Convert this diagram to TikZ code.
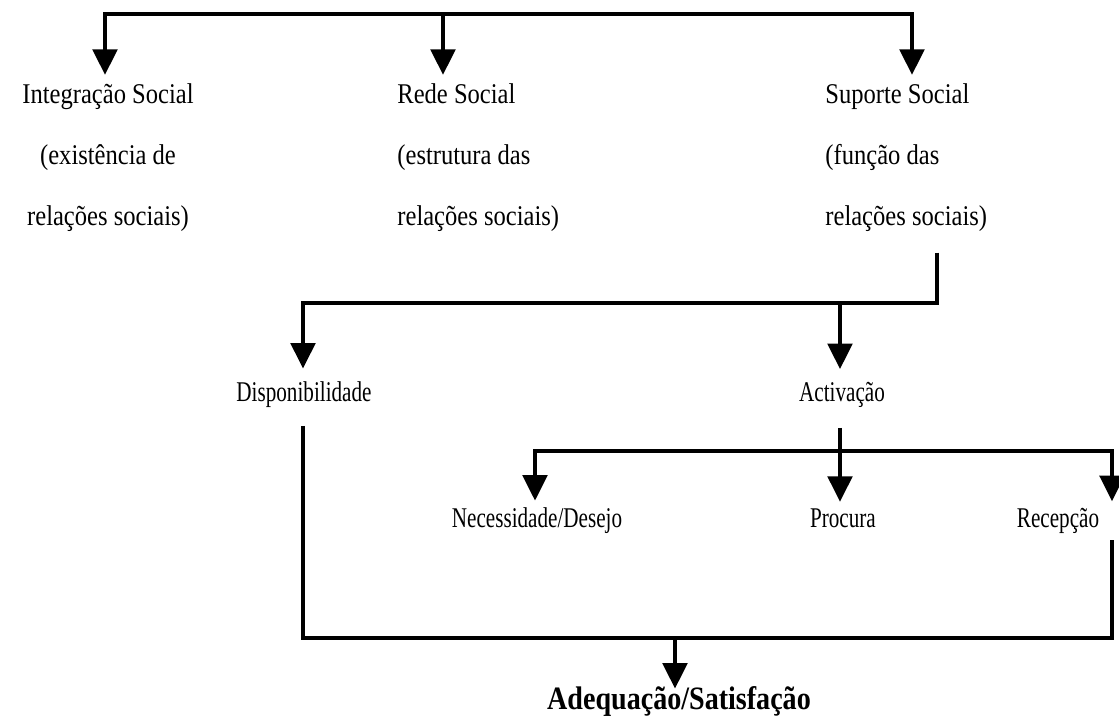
\documentclass[tikz,border=0pt]{standalone}
\usepackage{fontspec}
\setmainfont{Liberation Serif}
\newfontfamily\topserif{Liberation Serif}[FakeStretch=0.86]
\newfontfamily\narrowserif{Liberation Serif}[FakeStretch=0.74]
\newfontfamily\boldserif{Liberation Serif}[FakeStretch=0.86]
\usetikzlibrary{arrows.meta}

\begin{document}
\begin{tikzpicture}[x=0.49pt,y=-0.49pt,
  link/.style={line width=1.9pt},
  drop/.style={line width=1.9pt,-{Triangle[width=12pt,length=12.5pt]}},
  txt/.style={inner sep=0pt,font=\topserif\fontsize{14}{30}\selectfont},
  subtxt/.style={inner sep=0pt,font=\narrowserif\fontsize{14}{16}\selectfont}]
\useasboundingbox (0,0) rectangle (1119,717);

% Social relations
\node[txt,align=center,anchor=north] (integ) at (108,83) {Integração Social\\(existência de\\relações sociais)};
\node[txt,align=left,anchor=north west] (rede) at (397,83) {Rede Social\\(estrutura das\\relações sociais)};
\node[txt,align=left,anchor=north west] (suporte) at (825,83) {Suporte Social\\(função das\\relações sociais)};

\coordinate (topL) at (105,14);
\coordinate (topM) at (443,14);
\coordinate (topR) at (912,14);
\draw[drop,shorten >=4pt] (topM) -| (topL |- integ.north);
\draw[drop,shorten >=4pt] (topM) -- (topM |- rede.north);
\draw[drop,shorten >=4pt] (topM) -| (topR |- suporte.north);

% Support
\node[subtxt,anchor=base] (disp) at (304,401) {Disponibilidade};
\node[subtxt,anchor=base] (activ) at (842,401) {Activação};

\coordinate (midL) at (303,303);
\coordinate (midA) at (840,303);
\coordinate (midR) at (937,303);
\draw[drop,shorten <=10pt,shorten >=6pt] (midR |- suporte.south) -- (midR) -| (midL |- disp.north);
\draw[drop,shorten >=6pt] (midA) -- (midA |- activ.north);

% Activation
\node[subtxt,anchor=base] (necess) at (537,527) {Necessidade/Desejo};
\node[subtxt,anchor=base] (procura) at (843,527) {Procura};
\node[subtxt,anchor=base] (recep) at (1058,527) {Recepção};

\coordinate (actL) at (535,451);
\coordinate (actM) at (840,451);
\coordinate (actR) at (1112,451);
\draw[drop,shorten <=10pt,shorten >=3pt] (actM |- activ.south) -- (actM |- procura.north);
\draw[drop,shorten >=3pt] (actM) -| (actL |- necess.north);
\draw[drop,shorten >=3pt] (actM) -| (actR |- recep.north);

% Result
\node[subtxt,anchor=base,font=\boldserif\bfseries\fontsize{16}{18}\selectfont] (adeq) at (679,709) {Adequação/Satisfação};

\coordinate (botL) at (303,638);
\coordinate (botM) at (675,638);
\coordinate (botR) at (1112,638);
\draw[link,shorten <=9pt,shorten >=3pt] (midL |- disp.south) -- (botL) -- (botR) -- (botR |- recep.south);
\draw[drop,shorten >=10pt] (botM) -- (botM |- adeq.base);
\end{tikzpicture}
\end{document}
